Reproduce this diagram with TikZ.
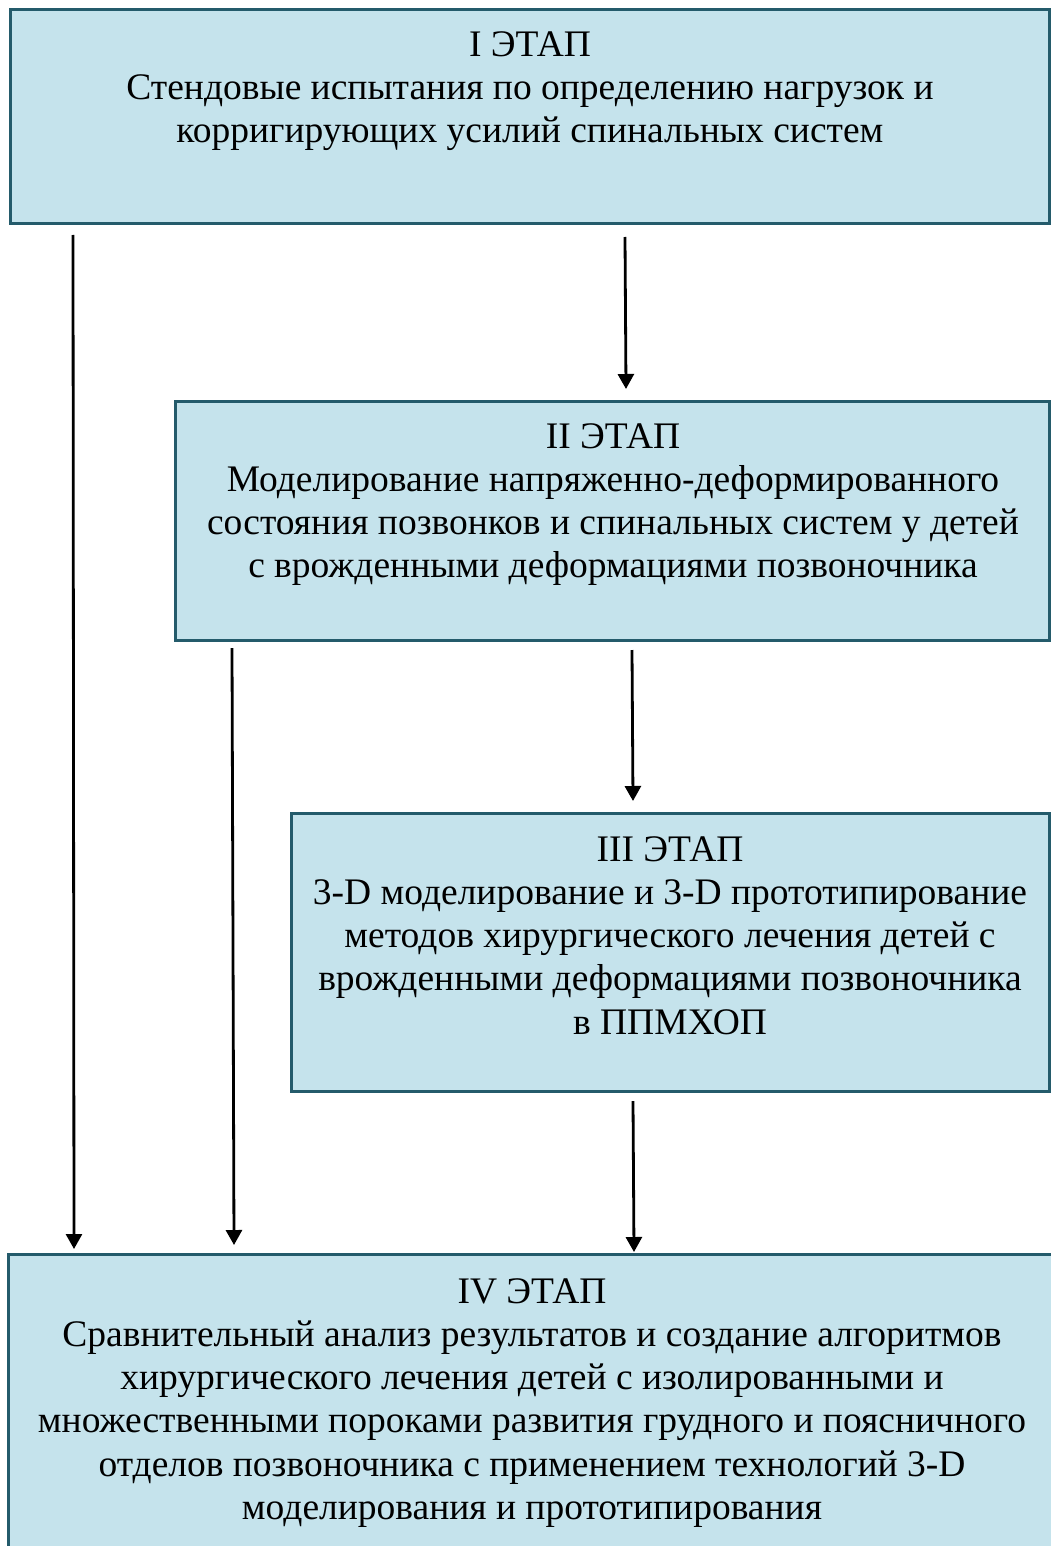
\documentclass[tikz,border=0pt]{standalone}
\usepackage{fontspec}
\setmainfont{Liberation Serif}
\usetikzlibrary{arrows.meta}
\definecolor{boxfill}{HTML}{C5E3EC}
\definecolor{boxline}{HTML}{245B6B}
\tikzset{
  stagebox/.style={draw=boxline, fill=boxfill, line width=3pt},
  stagetext/.style={align=center, anchor=north, inner sep=0pt, text=black,
    font={\fontsize{37.5}{43.3}\selectfont}},
  flow/.style={line width=2.8pt, -{Triangle[width=16pt,length=15pt]}}
}
\begin{document}
\begin{tikzpicture}[x=1pt,y=-1pt]
\useasboundingbox (0,0) rectangle (1051,1546);
% boxes
\draw[stagebox] (10,10) rectangle (1049,224);
\draw[stagebox] (175,401) rectangle (1049,640);
\draw[stagebox] (291,813) rectangle (1049,1091);
\draw[stagebox] (8,1254) rectangle (1070,1570);
% texts
\node[stagetext] (t1) at (530,31) {I ЭТАП\\Стендовые испытания по определению нагрузок и\\корригирующих усилий спинальных систем};
\node[stagetext] (t2) at (613,423) {II ЭТАП\\Моделирование напряженно-деформированного\\состояния позвонков и спинальных систем у детей\\с врожденными деформациями позвоночника};
\node[stagetext] (t3) at (670,836) {III ЭТАП\\3-D моделирование и 3-D прототипирование\\методов хирургического лечения детей с\\врожденными деформациями позвоночника\\в ППМХОП};
\node[stagetext] (t4) at (532,1278) {IV ЭТАП\\Сравнительный анализ результатов и создание алгоритмов\\хирургического лечения детей с изолированными и\\множественными пороками развития грудного и поясничного\\отделов позвоночника с применением технологий 3-D\\моделирования и прототипирования};
% connector ends
\coordinate (a1s) at (73,235);   \coordinate (a1e) at (74,1249);
\coordinate (a2s) at (625,237);  \coordinate (a2e) at (626,389);
\coordinate (a3s) at (232,648);  \coordinate (a3e) at (234,1245);
\coordinate (a4s) at (632,650);  \coordinate (a4e) at (633,801);
\coordinate (a5s) at (633,1101); \coordinate (a5e) at (634,1252);
\draw[flow] (a1s) -- (a1e);
\draw[flow] (a2s) -- (a2e);
\draw[flow] (a3s) -- (a3e);
\draw[flow] (a4s) -- (a4e);
\draw[flow] (a5s) -- (a5e);
\end{tikzpicture}
\end{document}
